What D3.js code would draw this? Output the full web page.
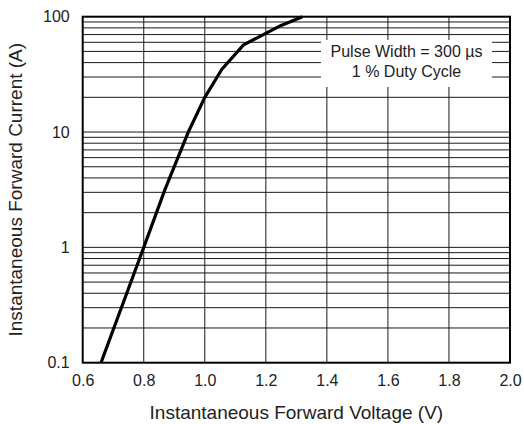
<!DOCTYPE html>
<html><head><meta charset="utf-8">
<script src="https://cdn.jsdelivr.net/npm/d3@7"></script>
<style>body{margin:0;background:#fff}svg{display:block}</style>
</head><body>
<script>
const voltage = [0.66, 0.80, 0.87, 0.946, 1.00, 1.056, 1.127, 1.25, 1.32];
const current = [0.1, 1, 3.2, 10, 20, 35, 57, 84, 100];
const xTicks = [0.6, 0.8, 1.0, 1.2, 1.4, 1.6, 1.8, 2.0];
const yTicks = [0.1, 1, 10, 100];
const yTickLabels = ["0.1", "1", "10", "100"];
const noteLines = ["Pulse Width = 300 µs", "1 % Duty Cycle"];

const W = 524, H = 424;
const L = 82.7, R = 510, T = 16.7, B = 362.7;
const font = "'Liberation Sans', Arial, Helvetica, sans-serif";

const svg = d3.select("body").append("svg").attr("width", W).attr("height", H);
const x = d3.scaleLinear().domain([0.6, 2.0]).range([L, R]);
const y = d3.scaleLog().domain([0.1, 100]).range([B, T]);

// minor horizontal grid
const hGrid = [];
for (let d = 0.1; d < 100; d *= 10) for (let k = 1; k <= 9; k++) hGrid.push(+(d * k).toPrecision(3));
const g = svg.append("g");
g.selectAll("line.h").data(hGrid.filter(v => v > 0.1)).enter().append("line")
  .attr("x1", L).attr("x2", R).attr("y1", d => y(d)).attr("y2", d => y(d))
  .attr("stroke", "#1a1a1a").attr("stroke-width", 1);
g.selectAll("line.v").data(xTicks.slice(1, -1)).enter().append("line")
  .attr("x1", d => x(d)).attr("x2", d => x(d)).attr("y1", T).attr("y2", B)
  .attr("stroke", "#1a1a1a").attr("stroke-width", 1);

// note box
svg.append("rect").attr("x", 321).attr("y", 40).attr("width", 171).attr("height", 47).attr("fill", "#fff");
svg.selectAll("text.note").data(noteLines).enter().append("text")
  .attr("x", 406.5).attr("y", (d, i) => 56.7 + i * 20)
  .attr("text-anchor", "middle").attr("font-family", font).attr("font-size", 16)
  .attr("fill", "#222").text(d => d);

// curve
const pts = voltage.map((v, i) => [v, current[i]]);
svg.append("path").datum(pts)
  .attr("d", d3.line().x(d => x(d[0])).y(d => y(d[1])))
  .attr("fill", "none").attr("stroke", "#000").attr("stroke-width", 3.2).attr("stroke-linejoin", "round");

// frame
svg.append("rect").attr("x", L).attr("y", T).attr("width", R - L).attr("height", B - T)
  .attr("fill", "none").attr("stroke", "#000").attr("stroke-width", 2);

// axes labels via d3 axes
const xAxis = d3.axisBottom(x).tickValues(xTicks).tickFormat(d3.format(".1f")).tickSize(0).tickPadding(12);
const xa = svg.append("g").attr("transform", `translate(0,${B})`).call(xAxis);
xa.select(".domain").remove();
xa.selectAll("text").attr("font-family", font).attr("font-size", 16).attr("fill", "#222");

const yAxis = d3.axisLeft(y).tickValues(yTicks).tickFormat((d, i) => yTickLabels[i]).tickSize(0).tickPadding(13);
const ya = svg.append("g").attr("transform", `translate(${L},0)`).call(yAxis);
ya.select(".domain").remove();
ya.selectAll("text").attr("font-family", font).attr("font-size", 16).attr("fill", "#222");

svg.append("text").attr("x", (L + R) / 2).attr("y", 419).attr("text-anchor", "middle")
  .attr("font-family", font).attr("font-size", 19).attr("fill", "#222")
  .text("Instantaneous Forward Voltage (V)");
svg.append("text").attr("transform", `translate(22,${(T + B) / 2}) rotate(-90)`).attr("text-anchor", "middle")
  .attr("font-family", font).attr("font-size", 19).attr("fill", "#222")
  .text("Instantaneous Forward Current (A)");
</script>
</body></html>
